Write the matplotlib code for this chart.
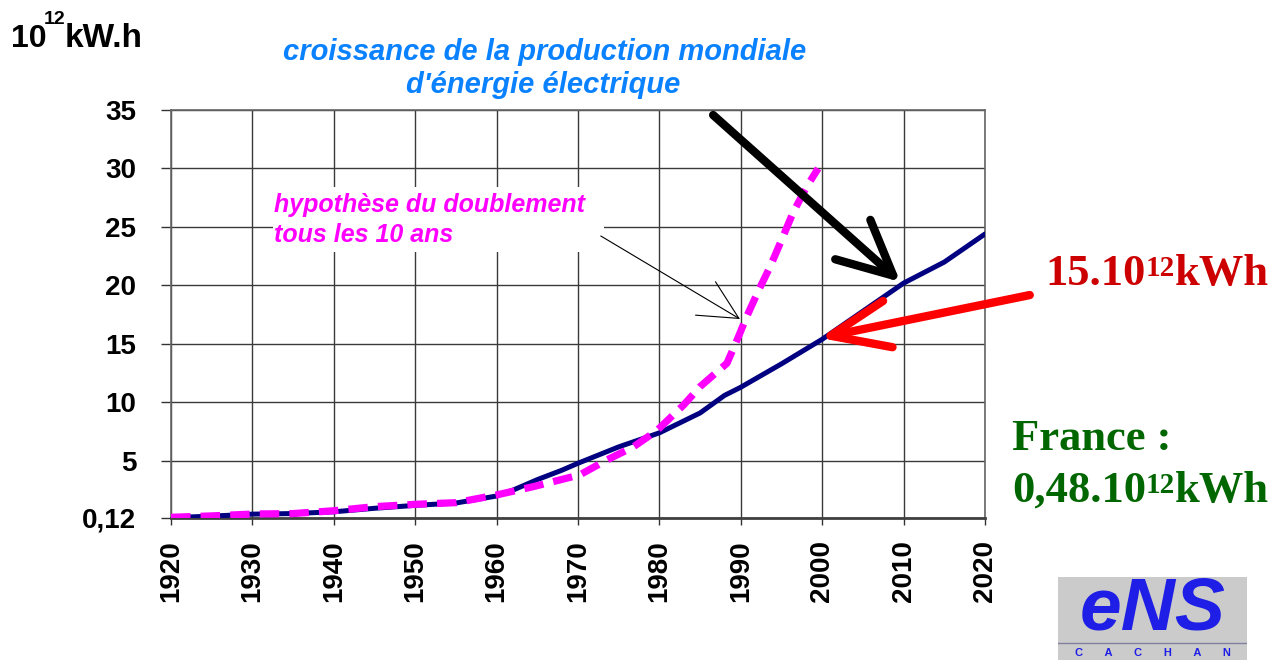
import matplotlib
matplotlib.use('Agg')
import matplotlib.pyplot as plt
from matplotlib.patches import Rectangle

# world electricity production, 10^12 kWh
years_world = [1920, 1925, 1930, 1935, 1940, 1945, 1950, 1955, 1960, 1962, 1965, 1968,
               1970, 1975, 1980, 1985, 1988, 1990, 1995, 2000, 2005, 2010, 2015, 2020]
world = [0.15, 0.28, 0.45, 0.5, 0.65, 0.95, 1.2, 1.4, 2.0, 2.5, 3.4, 4.2,
         4.8, 6.2, 7.4, 9.1, 10.6, 11.3, 13.3, 15.4, 17.8, 20.2, 22.0, 24.4]

# "doubling every 10 years" hypothesis
years_doubling = [1920, 1925, 1930, 1935, 1940, 1945, 1950, 1955, 1960, 1964.5, 1970.2,
                  1973.6, 1976.8, 1979.7, 1983.0, 1985.0, 1988.3, 1989.7, 1990.7,
                  1992.2, 1993.6, 1995.2, 1996.4, 1998.1, 1999.5]
doubling = [0.18, 0.3, 0.46, 0.5, 0.74, 1.09, 1.29, 1.43, 2.09, 2.8, 3.8,
            5.1, 6.2, 7.6, 9.8, 11.35, 13.35, 15.6, 17.3,
            19.6, 21.6, 24.2, 26.2, 28.45, 30.0]

x_ticks = list(range(1920, 2021, 10))
y_ticks = [0.12, 5, 10, 15, 20, 25, 30, 35]
y_tick_labels = ['0,12', '5', '10', '15', '20', '25', '30', '35']

W, H = 1279, 664
SANS = 'Liberation Sans'
SERIF = 'Liberation Serif'


def fx(px):
    return px / W


def fy(py):
    return 1 - py / H


fig = plt.figure(figsize=(W / 100, H / 100), dpi=100)
ax = fig.add_axes([fx(171), fy(518), fx(985) - fx(171), fy(110) - fy(518)])

ax.set_xlim(1920, 2020)
ax.set_ylim(0.12, 35)
ax.set_axisbelow(True)
ax.grid(True, color='#3a3a3a', linewidth=1.0)

# white box behind the hypothesis label hides the grid
ax.add_patch(Rectangle((1932.5, 22.9), 40.7, 5.55, facecolor='white',
                       edgecolor='none', zorder=1))

ax.plot(years_world, world, color='#000080', linewidth=3.6,
        solid_capstyle='round', zorder=3)
ax.plot(years_doubling, doubling, color='#FF00FF', linewidth=5.2,
        dashes=(2.7, 1.4), dash_capstyle='butt', zorder=4)

ax.set_xticks(x_ticks)
ax.set_yticks(y_ticks)
ax.set_yticklabels(y_tick_labels)
for lab in ax.get_xticklabels() + ax.get_yticklabels():
    lab.set_fontfamily(SANS)
    lab.set_fontweight('bold')
    lab.set_fontsize(20)
for lab in ax.get_xticklabels():
    lab.set_rotation(90)
ax.tick_params(axis='y', direction='out', length=7, width=1, color='#333333', pad=18)
ax.tick_params(axis='x', direction='out', length=5, width=1, color='#333333', pad=11)

for side in ['top', 'right', 'left']:
    ax.spines[side].set_color('#666666')
    ax.spines[side].set_linewidth(1.2)
ax.spines['bottom'].set_color('#404040')
ax.spines['bottom'].set_linewidth(2)

# hypothesis label + thin pointer
ax.text(1932.7, 25.6, 'hypothèse du doublement\ntous les 10 ans', color='#FF00FF',
        fontsize=18, fontstyle='italic', fontweight='bold', family=SANS,
        va='center', ha='left', linespacing=1.3, zorder=2)
ax.annotate('', xy=(1989.9, 17.13), xytext=(1972.8, 24.23),
            arrowprops=dict(arrowstyle='->,head_length=28,head_width=14', mutation_scale=1,
                            color='black', lw=0.8, shrinkA=0, shrinkB=0),
            annotation_clip=False, zorder=5)

# big arrows
ax.annotate('', xy=(2009.6, 20.3), xytext=(1986.6, 34.57),
            arrowprops=dict(arrowstyle='->,head_length=39,head_width=19', mutation_scale=1,
                            color='black', lw=6, shrinkA=0, shrinkB=0, capstyle='round'),
            annotation_clip=False, zorder=6)
ax.annotate('', xy=(1999.7, 15.51), xytext=(2025.5, 19.18),
            arrowprops=dict(arrowstyle='->,head_length=42,head_width=17', mutation_scale=1,
                            color='#FF0000', lw=6, shrinkA=0, shrinkB=0, capstyle='round'),
            annotation_clip=False, zorder=6)

# unit label
fig.text(fx(11), fy(47), '10', family=SANS, fontweight='bold', fontsize=23,
         ha='left', va='baseline')
fig.text(fx(44), fy(24), '12', family=SANS, fontweight='bold', fontsize=14,
         ha='left', va='baseline')
fig.text(fx(65), fy(47), 'kW.h', family=SANS, fontweight='bold', fontsize=24,
         ha='left', va='baseline')

# title
title_kw = dict(family=SANS, fontstyle='italic', fontweight='bold', fontsize=21,
                color='#0A82FF', ha='center', va='baseline')
fig.text(fx(545), fy(60), 'croissance de la production mondiale', **title_kw)
fig.text(fx(543), fy(93), "d'énergie électrique", **title_kw)


def sup_label(x, y, main, sup, tail, color):
    # main text, raised exponent, then tail back on the main baseline
    t1 = fig.text(fx(x), fy(y), main, family=SERIF, fontweight='bold', fontsize=32,
                  color=color, ha='left', va='baseline')
    t2 = fig.add_artist(plt.Annotation(sup, xy=(1, 0.97), xycoords=t1, ha='left', va='top',
                                       family=SERIF, fontweight='bold', fontsize=21,
                                       color=color))
    fig.canvas.draw()
    sup_w = t2.get_window_extent(fig.canvas.get_renderer()).width
    fig.add_artist(plt.Annotation(tail, xy=(1, 0), xycoords=t1, xytext=(sup_w * 0.72, 0),
                                  textcoords='offset points', ha='left', va='bottom',
                                  family=SERIF, fontweight='bold', fontsize=32,
                                  color=color))


sup_label(1045, 285, '15.10', '12', 'kWh', '#CC0000')
fig.text(fx(1012), fy(450), 'France :', family=SERIF, fontweight='bold', fontsize=32,
         color='#006600', ha='left', va='baseline')
sup_label(1012, 502, '0,48.10', '12', 'kWh', '#006600')

# ENS Cachan logo
logo = fig.add_axes([fx(1058), fy(660), fx(1247) - fx(1058), fy(577) - fy(660)])
logo.set_xlim(0, 1)
logo.set_ylim(0, 1)
logo.axis('off')
logo.add_patch(Rectangle((0, 0), 1, 1, facecolor='#CBCBCB', edgecolor='none'))
logo.text(0.5, 0.6, 'eNS', family=SANS, fontstyle='italic', fontweight='bold',
          fontsize=54, color='#1E1EE6', ha='center', va='center')
logo.plot([0, 1], [0.2, 0.2], color='#8080A0', linewidth=1)
logo.text(0.5, 0.08, 'C       A       C       H       A       N', family=SANS,
          fontweight='bold', fontsize=8, color='#1E1EE6', ha='center', va='center')

fig.savefig('out.png', dpi=100)
